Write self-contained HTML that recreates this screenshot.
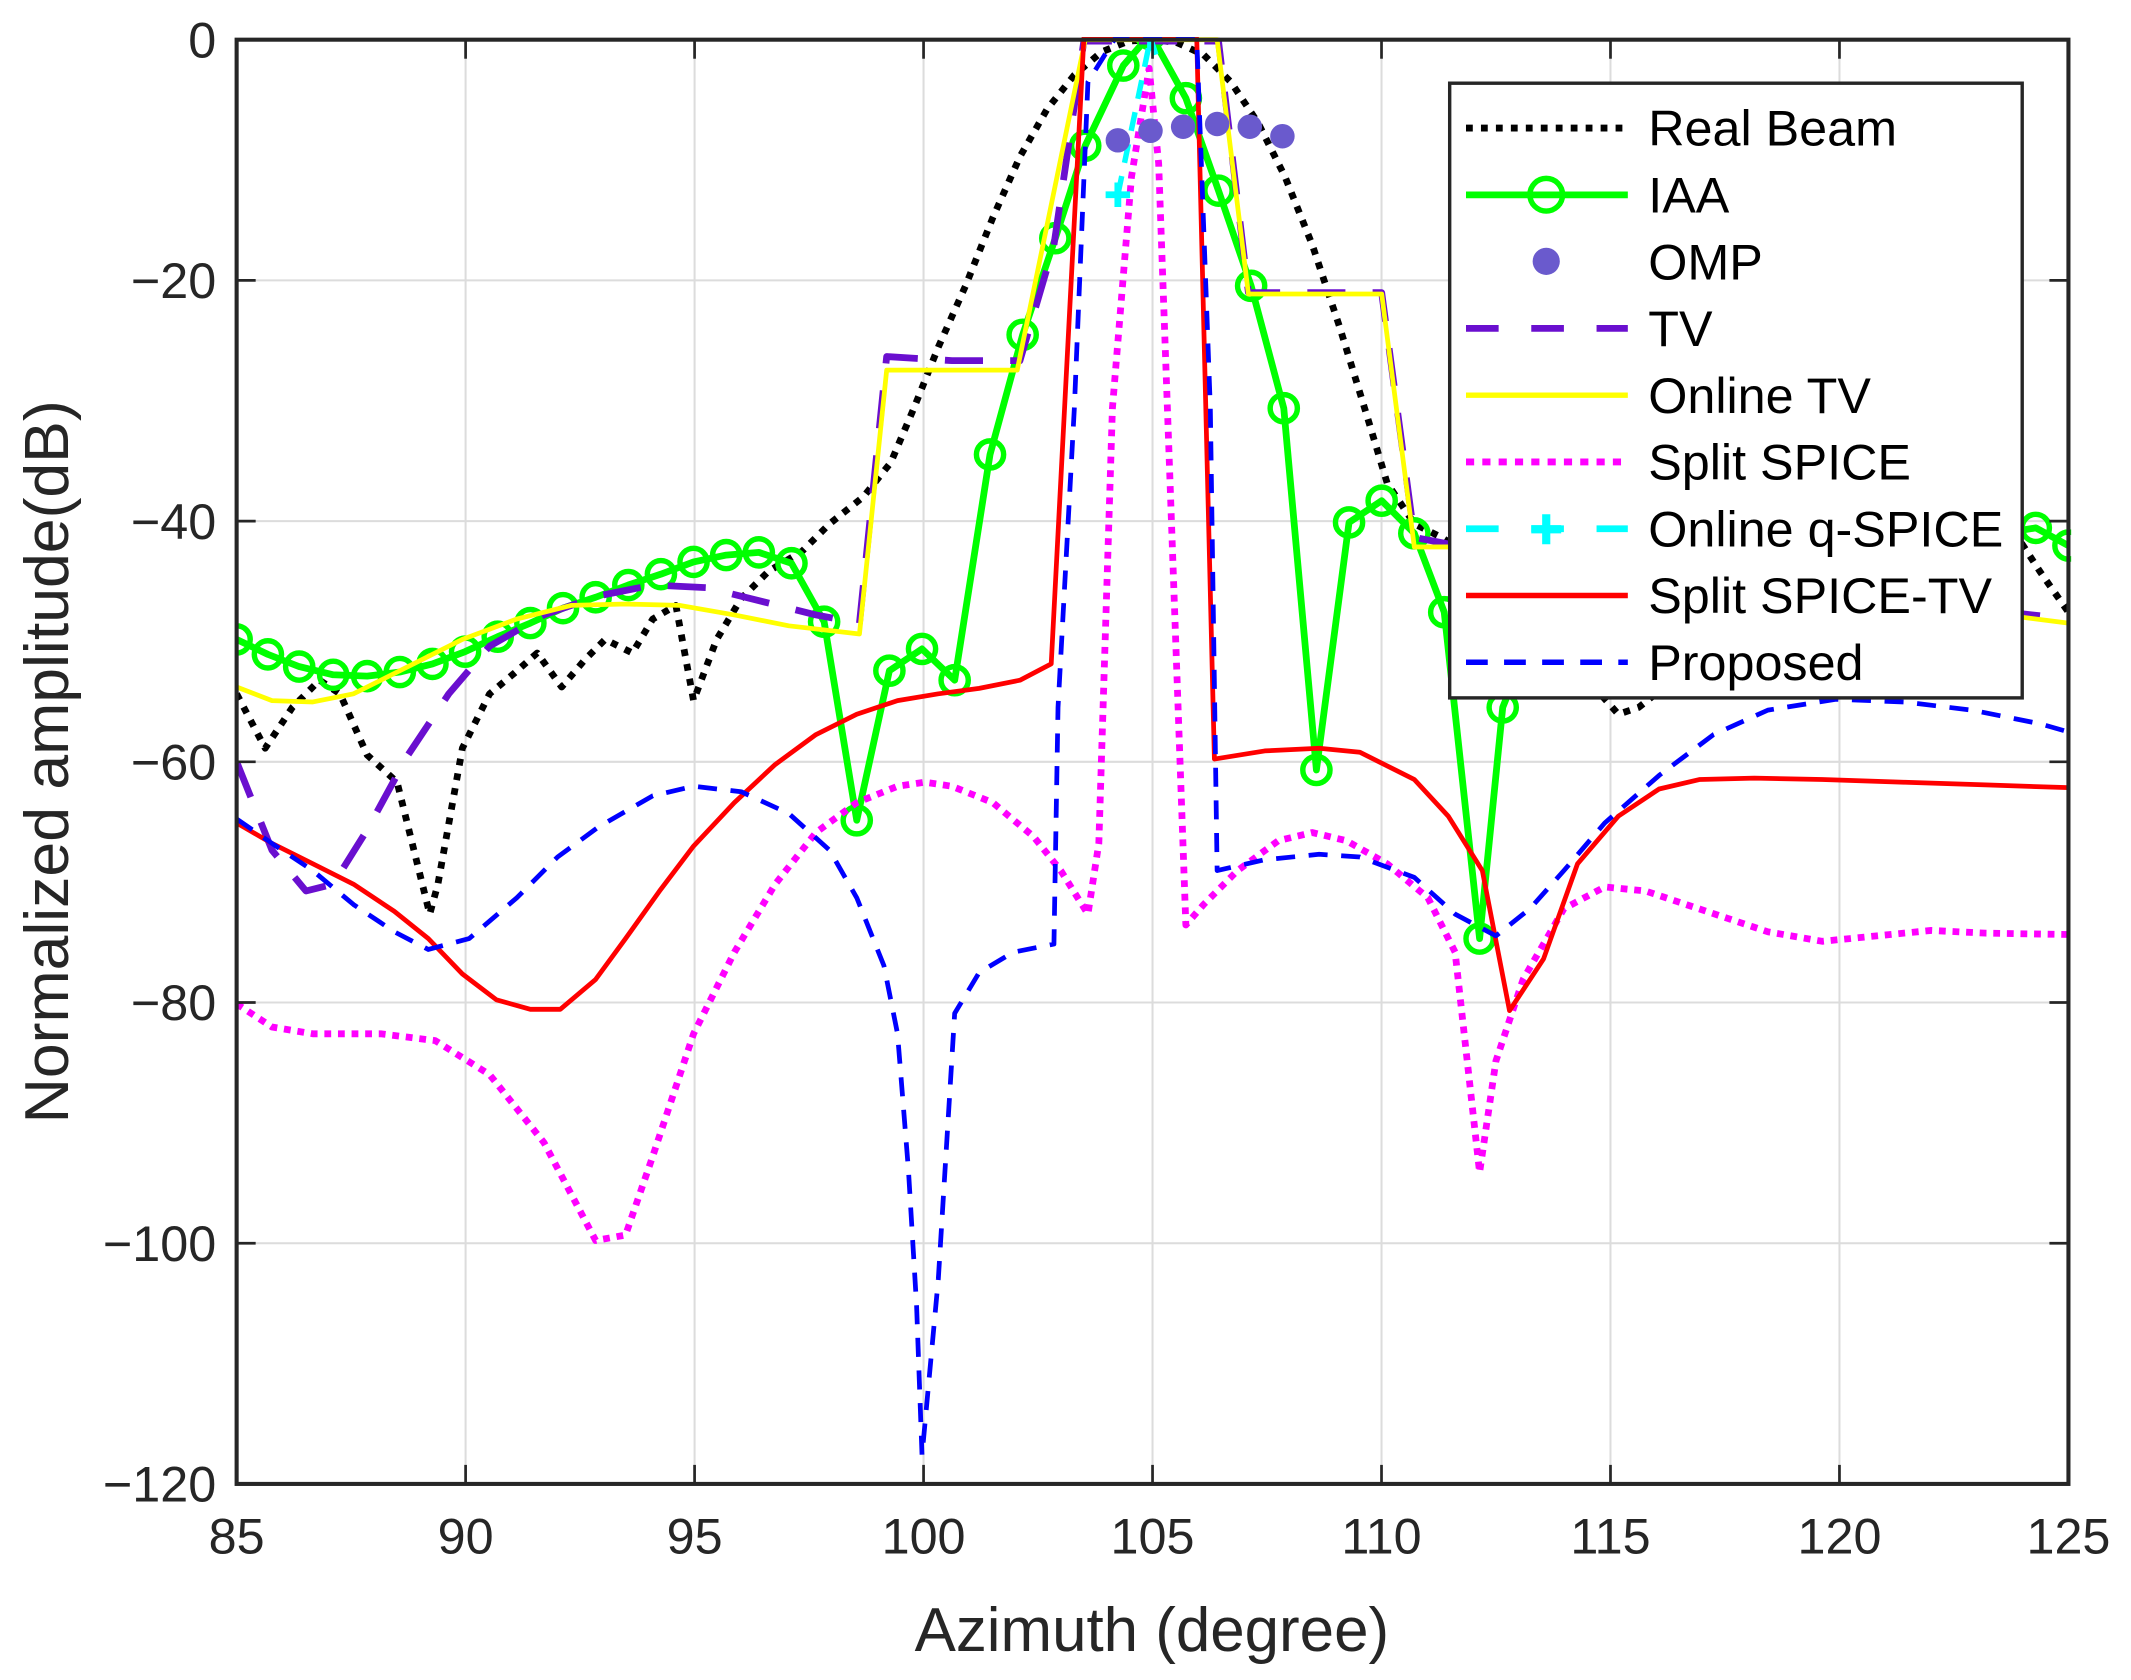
<!DOCTYPE html>
<html><head><meta charset="utf-8"><style>
html,body{margin:0;padding:0;background:#fff}
svg{display:block}
text{font-family:"Liberation Sans",Arial,sans-serif;fill:#262626}
</style></head><body>
<svg id="s" width="2131" height="1680" viewBox="0 0 1567 1235" xmlns="http://www.w3.org/2000/svg">
<rect width="1567" height="1235" fill="#fff"/>
<g id="grid" stroke="#dcdcdc" stroke-width="1.5"></g>
<g id="series" clip-path="url(#cp)"></g>
<defs><clipPath id="cp"><rect x="174" y="27" width="1349" height="1066"/></clipPath></defs>
<g id="axes"></g>
<g id="legend"></g>
<text x="847" y="1214" font-size="45.5" text-anchor="middle">Azimuth (degree)</text>
<text transform="translate(50,560) rotate(-90)" font-size="46" text-anchor="middle">Normalized amplitude(dB)</text>
</svg>
<script>
var NS="http://www.w3.org/2000/svg";
function el(p,t,a,txt){var e=document.createElementNS(NS,t);for(var k in a)e.setAttribute(k,a[k]);if(txt!==undefined)e.textContent=txt;document.getElementById(p).appendChild(e);return e;}
var L=174,R=1521,T=29,B=1091;
for(var i=0;i<=8;i++){var x=L+(R-L)*i/8;
 if(i>0&&i<8)el('grid','line',{x1:x,y1:T,x2:x,y2:B});
 el('axes','line',{x1:x,y1:B,x2:x,y2:B-14,stroke:'#262626','stroke-width':2});
 el('axes','line',{x1:x,y1:T,x2:x,y2:T+14,stroke:'#262626','stroke-width':2});
 el('axes','text',{x:x,y:B+51,'font-size':37,'text-anchor':'middle'},String(85+5*i));}
for(var j=0;j<=6;j++){var y=T+(B-T)*j/6;
 if(j>0&&j<6)el('grid','line',{x1:L,y1:y,x2:R,y2:y});
 el('axes','line',{x1:L,y1:y,x2:L+14,y2:y,stroke:'#262626','stroke-width':2});
 el('axes','line',{x1:R,y1:y,x2:R-14,y2:y,stroke:'#262626','stroke-width':2});
 el('axes','text',{x:159,y:y+13,'font-size':37,'text-anchor':'end'},j==0?'0':'\u2212'+(20*j));}
el('axes','rect',{x:L,y:T,width:R-L,height:B-T,fill:'none',stroke:'#262626','stroke-width':3});
function pts(a){var s='';for(var i=0;i<a.length;i+=2)s+=(i?'L':'M')+a[i]+','+a[i+1];return s;}
function line(a,st){var o={d:pts(a),fill:'none','stroke-linejoin':'round'};for(var k in st)o[k]=st[k];return el('series','path',o);}
var rb=[174,510,195,550,215,520,235,500,250,510,270,555,292,575,316,672,322,650,340,550,360,510,378,495,395,480,413,505,430,485,445,470,465,480,480,455,497,445,510,515,527,470,545,440,565,420,590,405,610,385,635,365,655,340,672,300,690,255,710,210,730,160,750,115,770,80,790,55,810,38,830,30,847,29,865,31,885,40,905,60,925,90,945,130,965,180,985,240,1005,305,1020,355,1040,385,1060,395,1100,420,1150,480,1190,525,1205,520,1230,500,1300,470,1400,430,1487,400,1500,420,1521,450];
var tv=[174,560,200,625,225,655,245,650,270,610,300,555,330,510,360,475,400,452,440,438,480,430,520,432,560,442,600,452,632,458,652,262,700,265,750,265,775,180,797,30,896,30,918,215,1016,215,1040,395,1066,400,1300,430,1521,455];
var otv=[174,505,200,515,230,516,260,510,300,490,340,470,380,455,420,445,460,444,500,445,540,452,580,460,632,466,652,272,748,272,798,29,895,29,918,216,1016,216,1040,402,1066,402,1300,430,1521,458];
var ss=[174,738,200,755,230,760,280,760,320,765,360,790,400,840,438,912,460,908,480,850,510,760,540,700,570,650,600,612,630,590,660,578,680,575,700,578,730,590,760,615,780,640,800,672,808,620,818,300,832,130,845,50,852,120,862,400,872,680,885,665,910,640,940,618,965,612,990,618,1020,635,1050,660,1070,700,1088,862,1100,780,1120,720,1150,668,1180,652,1210,655,1240,665,1270,675,1300,685,1340,692,1380,688,1420,684,1460,686,1521,687];
var sst=[174,605,200,620,230,635,260,650,290,670,315,690,340,716,365,735,390,742,412,742,438,720,460,690,485,655,510,622,540,590,570,562,600,540,630,525,660,515,690,510,720,506,750,500,773,488,797,28,880,28,893,558,930,552,970,550,1000,553,1040,573,1065,600,1090,640,1110,743,1135,705,1160,635,1190,600,1220,580,1250,573,1290,572,1340,573,1400,575,1460,577,1521,579];
var pr=[174,602,200,620,230,640,260,665,290,685,315,698,345,690,380,660,410,630,440,608,480,585,510,578,545,582,580,598,610,625,630,660,650,710,660,760,668,860,674,960,678,1070,690,940,702,745,720,715,745,700,775,694,778,520,790,300,800,60,820,28,880,28,890,300,895,640,930,632,970,628,1000,630,1040,645,1070,672,1100,688,1125,668,1150,640,1180,605,1220,570,1260,540,1300,522,1350,514,1400,516,1450,522,1500,532,1521,538];
var iaa=[174,470,197,481,220,490,245,496,270,497,294,494,318,488,342,479,366,468,390,458,414,447,438,439,462,430,486,422,510,413,534,408,558,406,582,414,606,457,630,603,654,493,678,477,702,500,728,334,752,246,776,175,798,107,826,48,846,25,872,72,896,140,920,210,944,300,968,566,992,384,1016,368,1040,392,1062,450,1088,690,1105,520,1125,470,1300,420,1497,388,1521,401];
line(rb,{stroke:'#000','stroke-width':5,'stroke-dasharray':'5,6'});
line(iaa,{stroke:'#00ff00','stroke-width':5});
for(var i=0;i<iaa.length;i+=2)el('series','circle',{cx:iaa[i],cy:iaa[i+1],r:10,fill:'none',stroke:'#00ff00','stroke-width':4});
line(tv,{stroke:'#6a0fcf','stroke-width':5,'stroke-dasharray':'28,20'});
line(otv,{stroke:'#ffff00','stroke-width':3.5});
line(ss,{stroke:'#ff00ff','stroke-width':5,'stroke-dasharray':'5,5'});
line([822,143,846,28,850,40],{stroke:'#00ffff','stroke-width':4,'stroke-dasharray':'14,10'});
[[822,143],[846,28]].forEach(function(p){el('series','path',{d:'M'+(p[0]-9)+','+p[1]+'h18M'+p[0]+','+(p[1]-9)+'v18',stroke:'#00ffff','stroke-width':5});});
line(sst,{stroke:'#ff0000','stroke-width':3.5});
line(pr,{stroke:'#0000ff','stroke-width':3.5,'stroke-dasharray':'14,10'});
[[822,103],[846,96],[870,93],[895,91],[919,93],[943,100]].forEach(function(p){el('series','circle',{cx:p[0],cy:p[1],r:9,fill:'#6a5acd'});});
el('legend','rect',{x:1066,y:61,width:421,height:452,fill:'#fff',stroke:'#262626','stroke-width':2.5});
var names=['Real Beam','IAA','OMP','TV','Online TV','Split SPICE','Online q-SPICE','Split SPICE-TV','Proposed'];
for(var k=0;k<9;k++){var y=94+k*49.1;
 el('legend','text',{x:1212,y:y+13,'font-size':37,style:'fill:#000'},names[k]);}
function lg(k,o){var y=94+k*49.1;var a={x1:1078,y1:y,x2:1197,y2:y};for(var q in o)a[q]=o[q];el('legend','line',a);}
lg(0,{stroke:'#000','stroke-width':5,'stroke-dasharray':'5,6'});
lg(1,{stroke:'#00ff00','stroke-width':5});el('legend','circle',{cx:1137,cy:143,r:12,fill:'none',stroke:'#00ff00','stroke-width':4});
el('legend','circle',{cx:1137,cy:192,r:10,fill:'#6a5acd'});
lg(3,{stroke:'#6a0fcf','stroke-width':5,'stroke-dasharray':'24,24'});
lg(4,{stroke:'#ffff00','stroke-width':4});
lg(5,{stroke:'#ff00ff','stroke-width':5,'stroke-dasharray':'6,6'});
lg(6,{stroke:'#00ffff','stroke-width':5,'stroke-dasharray':'24,24'});
el('legend','path',{d:'M1126,389h22M1137,378v22',stroke:'#00ffff','stroke-width':6});
lg(7,{stroke:'#ff0000','stroke-width':4});
lg(8,{stroke:'#0000ff','stroke-width':4,'stroke-dasharray':'16,12'});
</script>
</body></html>
